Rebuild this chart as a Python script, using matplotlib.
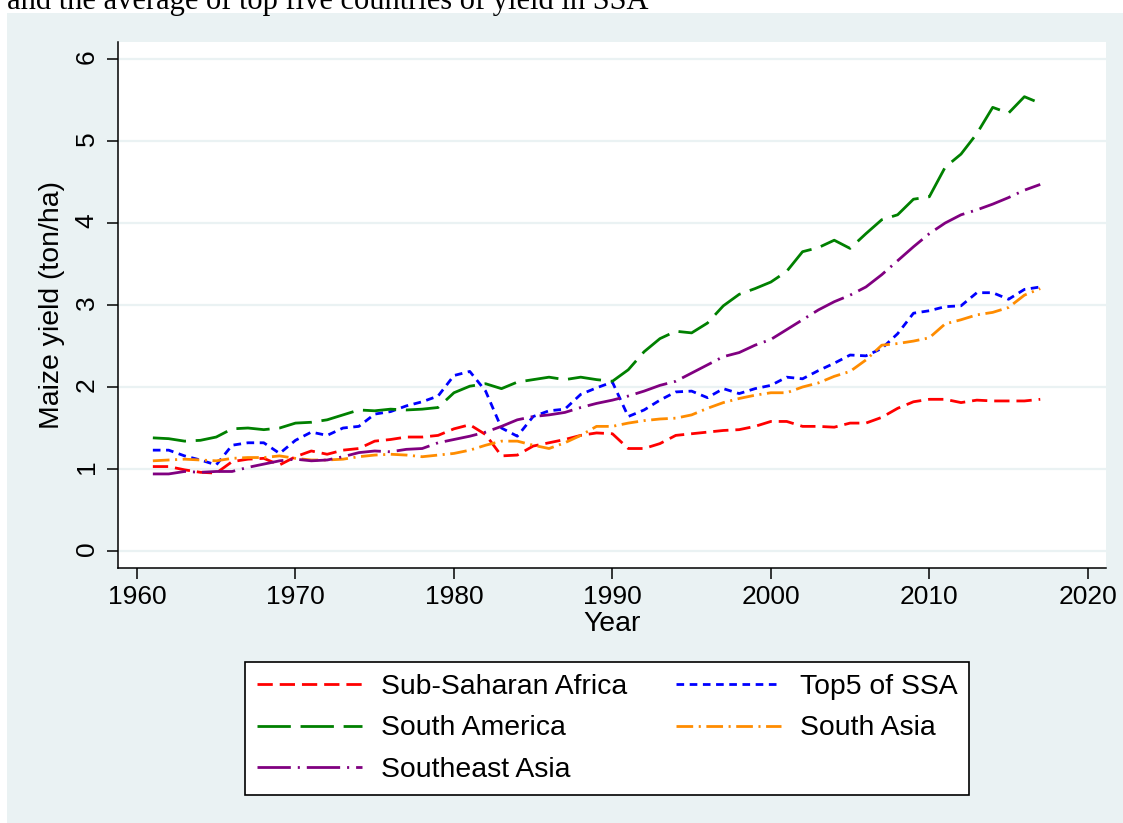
# Maize yield by region, 1961-2017 (Stata-like line chart)

import numpy as np
import matplotlib.pyplot as plt
from matplotlib.patches import Rectangle

years = np.arange(1961, 2018)

ssa = [1.03, 1.03, 0.99, 0.96, 0.95, 1.09, 1.12, 1.13, 1.05, 1.15,
       1.22, 1.18, 1.23, 1.25, 1.34, 1.36, 1.39, 1.39, 1.41, 1.49,
       1.54, 1.42, 1.16, 1.17, 1.28, 1.32, 1.36, 1.41, 1.44, 1.43,
       1.25, 1.25, 1.31, 1.41, 1.43, 1.45, 1.47, 1.48, 1.52, 1.58,
       1.58, 1.52, 1.52, 1.51, 1.56, 1.56, 1.63, 1.74, 1.82, 1.85,
       1.85, 1.81, 1.84, 1.83, 1.83, 1.83, 1.85]

top5 = [1.23, 1.23, 1.16, 1.11, 1.05, 1.29, 1.32, 1.32, 1.19, 1.35,
        1.45, 1.41, 1.50, 1.52, 1.67, 1.70, 1.77, 1.82, 1.89, 2.14,
        2.19, 1.95, 1.50, 1.40, 1.64, 1.71, 1.73, 1.91, 1.99, 2.06,
        1.64, 1.72, 1.84, 1.94, 1.95, 1.87, 1.98, 1.92, 1.98, 2.02,
        2.12, 2.10, 2.20, 2.29, 2.39, 2.38, 2.47, 2.65, 2.90, 2.93,
        2.98, 2.99, 3.15, 3.15, 3.07, 3.19, 3.22]

south_america = [1.38, 1.37, 1.34, 1.35, 1.39, 1.49, 1.50, 1.48, 1.50, 1.56,
                 1.57, 1.60, 1.66, 1.72, 1.71, 1.73, 1.72, 1.73, 1.75, 1.93,
                 2.01, 2.04, 1.98, 2.06, 2.09, 2.12, 2.09, 2.12, 2.09, 2.07,
                 2.21, 2.43, 2.59, 2.68, 2.66, 2.78, 2.99, 3.13, 3.20, 3.28,
                 3.41, 3.65, 3.70, 3.79, 3.69, 3.87, 4.04, 4.10, 4.29, 4.32,
                 4.68, 4.84, 5.09, 5.41, 5.34, 5.54, 5.46]

south_asia = [1.10, 1.11, 1.12, 1.11, 1.10, 1.13, 1.14, 1.14, 1.16, 1.13,
              1.11, 1.11, 1.12, 1.15, 1.17, 1.18, 1.17, 1.15, 1.17, 1.19,
              1.23, 1.29, 1.34, 1.34, 1.29, 1.25, 1.32, 1.41, 1.52, 1.52,
              1.56, 1.59, 1.61, 1.62, 1.66, 1.74, 1.81, 1.86, 1.90, 1.93,
              1.93, 2.00, 2.05, 2.13, 2.19, 2.33, 2.51, 2.53, 2.56, 2.60,
              2.77, 2.82, 2.88, 2.91, 2.97, 3.12, 3.20]

southeast_asia = [0.94, 0.94, 0.97, 0.96, 0.97, 0.97, 1.02, 1.06, 1.10, 1.12,
                  1.10, 1.11, 1.15, 1.20, 1.22, 1.21, 1.24, 1.25, 1.32, 1.36,
                  1.40, 1.45, 1.52, 1.60, 1.64, 1.66, 1.69, 1.75, 1.80, 1.84,
                  1.89, 1.95, 2.02, 2.07, 2.17, 2.27, 2.37, 2.42, 2.51, 2.58,
                  2.70, 2.82, 2.94, 3.04, 3.12, 3.22, 3.37, 3.54, 3.71, 3.87,
                  4.00, 4.10, 4.16, 4.23, 4.31, 4.40, 4.47]

x_ticks = [1960, 1970, 1980, 1990, 2000, 2010, 2020]
y_ticks = [0, 1, 2, 3, 4, 5, 6]

plt.rcParams['font.family'] = ['Liberation Sans', 'DejaVu Sans']
plt.rcParams['lines.scale_dashes'] = False

W, H = 1123, 823
fig = plt.figure(figsize=(W / 100, H / 100), dpi=100)
fig.patch.set_facecolor('white')

# Stata graph region (light blue-grey), the top strip stays white
fig.add_artist(Rectangle((7 / W, 0), 1, 810 / H, transform=fig.transFigure,
                         facecolor='#EAF2F3', edgecolor='none', zorder=-1))

# caption text cut off at the top of the image
fig.text(7 / W, 1 - 9.5 / H, 'and the average of top five countries of yield in SSA',
         family='Liberation Serif', fontsize=22, va='baseline', ha='left')

ax = fig.add_axes([118 / W, 1 - 568 / H, 988 / W, 526 / H])
ax.set_facecolor('white')

l1, = ax.plot(years, ssa, color='#FF0000', lw=2, dashes=(11, 5), label='Sub-Saharan Africa')
l2, = ax.plot(years, top5, color='#0000FF', lw=2, dashes=(5.5, 4), label='Top5 of SSA')
l3, = ax.plot(years, south_america, color='#008000', lw=2, dashes=(24, 7), label='South America')
l4, = ax.plot(years, south_asia, color='#FF8C00', lw=2, dashes=(12, 4, 1.5, 4), label='South Asia')
l5, = ax.plot(years, southeast_asia, color='#800080', lw=2, dashes=(24, 5, 1.5, 5), label='Southeast Asia')

ax.set_xlim(1958.8, 2021.15)
ax.set_ylim(-0.207, 6.207)
ax.set_xticks(x_ticks)
ax.set_yticks(y_ticks)
ax.grid(axis='y', color='#EAF2F3', lw=1.6)
ax.set_axisbelow(True)

for s in ['top', 'right']:
    ax.spines[s].set_visible(False)
for s in ['left', 'bottom']:
    ax.spines[s].set_linewidth(1.1)
    ax.spines[s].set_color('black')

ax.tick_params(direction='out', length=8, width=1.1, labelsize=19, color='black')
ax.tick_params(axis='x', pad=4)
ax.tick_params(axis='y', labelrotation=90, pad=6)

ax.set_xlabel('Year', fontsize=20.4, labelpad=2)
ax.set_ylabel('Maize yield (ton/ha)', fontsize=20.4, labelpad=7)

leg = fig.legend([l1, l3, l5, l2, l4],
                 ['Sub-Saharan Africa', 'South America', 'Southeast Asia',
                  'Top5 of SSA', 'South Asia'],
                 loc='upper left', bbox_to_anchor=(245 / W, 1 - 662 / H),
                 ncol=2, frameon=True, fancybox=False, framealpha=1,
                 edgecolor='black', fontsize=20.4, handlelength=3.7,
                 handletextpad=0.67, columnspacing=1.73, labelspacing=0.55,
                 borderpad=0.42, borderaxespad=0)
leg.get_frame().set_linewidth(1.2)

fig.savefig('out.png', dpi=100)
